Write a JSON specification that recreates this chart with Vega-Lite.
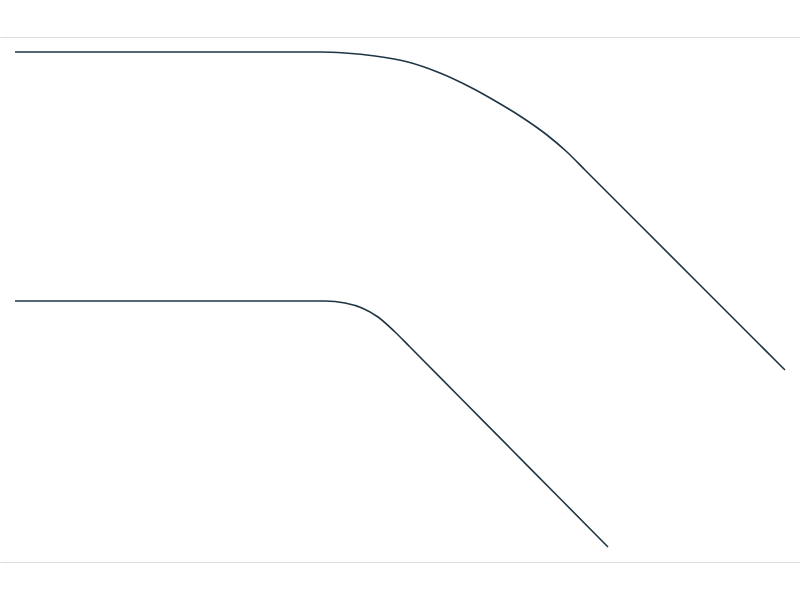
{
  "$schema": "https://vega.github.io/schema/vega-lite/v6.json",
  "width": 800,
  "height": 600,
  "autosize": {"type": "fit", "contains": "padding"},
  "padding": 0,
  "background": "white",
  "config": {"view": {"stroke": null}},
  "data": {
    "values": [
      {"series": "upper", "x": 15, "y": 548},
      {"series": "upper", "x": 200, "y": 548},
      {"series": "upper", "x": 320, "y": 548},
      {"series": "upper", "x": 345, "y": 547},
      {"series": "upper", "x": 375, "y": 544},
      {"series": "upper", "x": 408, "y": 538},
      {"series": "upper", "x": 440, "y": 527},
      {"series": "upper", "x": 470, "y": 513},
      {"series": "upper", "x": 497, "y": 498},
      {"series": "upper", "x": 523, "y": 482},
      {"series": "upper", "x": 547, "y": 465},
      {"series": "upper", "x": 567, "y": 448},
      {"series": "upper", "x": 585, "y": 430},
      {"series": "upper", "x": 640, "y": 375},
      {"series": "upper", "x": 700, "y": 315},
      {"series": "upper", "x": 760, "y": 255},
      {"series": "upper", "x": 785, "y": 230},
      {"series": "lower", "x": 15, "y": 299},
      {"series": "lower", "x": 200, "y": 299},
      {"series": "lower", "x": 325, "y": 299},
      {"series": "lower", "x": 345, "y": 297},
      {"series": "lower", "x": 362, "y": 292},
      {"series": "lower", "x": 378, "y": 283},
      {"series": "lower", "x": 395, "y": 268},
      {"series": "lower", "x": 410, "y": 253},
      {"series": "lower", "x": 460, "y": 202.5},
      {"series": "lower", "x": 510, "y": 152},
      {"series": "lower", "x": 560, "y": 101.5},
      {"series": "lower", "x": 608, "y": 53}
    ]
  },
  "mark": {"type": "line", "color": "#1e3644", "strokeWidth": 1.6, "interpolate": "monotone"},
  "encoding": {
    "x": {
      "field": "x",
      "type": "quantitative",
      "scale": {"domain": [0, 800], "nice": false, "zero": false},
      "axis": null
    },
    "y": {
      "field": "y",
      "type": "quantitative",
      "scale": {"domain": [0, 600], "nice": false, "zero": false},
      "axis": {
        "values": [38, 563],
        "grid": true,
        "gridColor": "#dddddd",
        "labels": false,
        "ticks": false,
        "domain": false,
        "title": null
      }
    },
    "detail": {"field": "series", "type": "nominal"}
  }
}
